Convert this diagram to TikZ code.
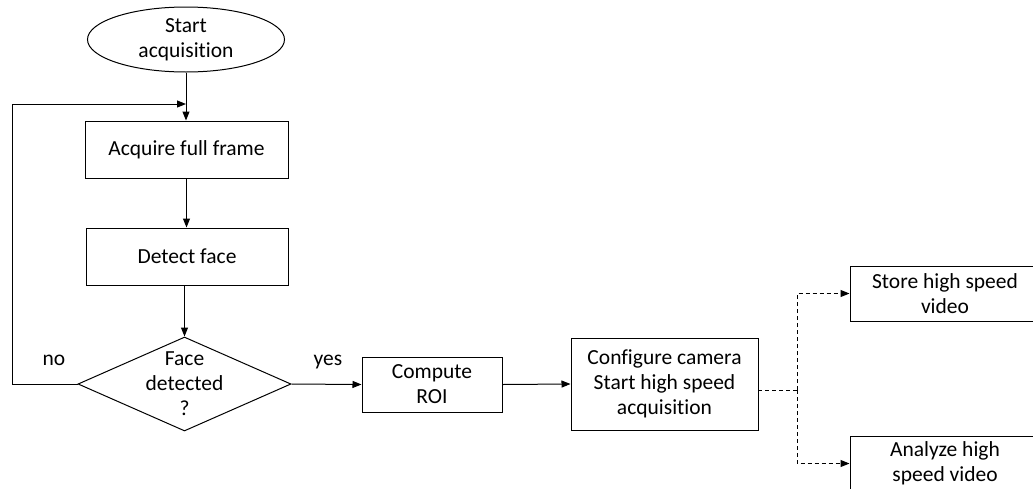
\documentclass[tikz,border=0pt]{standalone}
\usepackage{fontspec}
\setmainfont[Ligatures=NoCommon]{Carlito}
\usetikzlibrary{shapes.geometric,arrows.meta}
\begin{document}
\begin{tikzpicture}[x=1pt,y=-1pt,
  every node/.style={font=\fontsize{21.5}{25}\selectfont},
  box/.style={draw,line width=1pt,align=center,inner sep=0pt,rectangle},
  arr/.style={-{Triangle[length=9pt,width=7pt]},line width=1pt},
  dsh/.style={line width=1pt,dash pattern=on 4pt off 3pt},
  lbl/.style={inner sep=0pt,anchor=base}]
\useasboundingbox (0,0) rectangle (1033,488);
\clip (0,0) rectangle (1033,488);
\fill[white] (0,0) rectangle (1033,488);

\node[box,ellipse,minimum width=197pt,minimum height=65pt] (start) at (186,39.5) {Start\\acquisition};
\node[box,minimum width=203pt,minimum height=57pt] (acq) at (186.5,149.5) {Acquire full frame};
\node[box,minimum width=202pt,minimum height=57pt] (det) at (187,256.5) {Detect face};
\node[box,diamond,minimum width=213pt,minimum height=94pt] (dia) at (184.5,384)
  {\raisebox{-7pt}[0pt][0pt]{\makebox[0pt]{\begin{tabular}{@{}c@{}}Face\\detected\\?\end{tabular}}}};
\node[box,minimum width=140pt,minimum height=55pt] (roi) at (432,384.5) {Compute\\ROI};
\node[box,minimum width=187pt,minimum height=92pt] (conf) at (664.5,384) {Configure camera\\Start high speed\\acquisition};
\node[box,minimum width=190pt,minimum height=55pt] (store) at (945,293.5) {Store high speed\\video};
\node[box,minimum width=190pt,minimum height=55pt] (ana) at (945,463.5) {Analyze high\\speed video};

\node[lbl] (no) at (54,365) {no};
\node[lbl] (yes) at (328,365) {yes};

\coordinate (join) at (186,104);
\coordinate (loopbot) at (12,384);
\coordinate (looptop) at (12,104);
\coordinate (dout) at (758,390);
\coordinate (split) at (797,390);

\draw[arr] (start.south) -- (start.south |- acq.north);
\draw[arr] (dia.west) -- (loopbot) -- (looptop) -- (join);
\draw[arr] (acq.south) -- (acq.south |- det.north);
\draw[arr] (det.south -| dia.north) -- (dia.north);
\draw[arr] (dia.east) -- (roi.west);
\draw[arr] (roi.east) -- (conf.west);
\draw[dsh] (dout) -- (split);
\draw[dsh,-{Triangle[length=9pt,width=7pt]}] (split) |- (store.west);
\draw[dsh,-{Triangle[length=9pt,width=7pt]}] (split) |- (ana.west);
\end{tikzpicture}
\end{document}
